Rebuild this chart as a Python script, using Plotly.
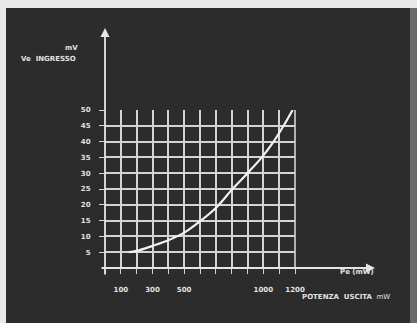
import plotly.graph_objects as go

# curve: input mV vs output power mW
potenza = [150, 200, 300, 400, 500, 600, 700, 805, 900, 990, 1065, 1128, 1185]
ingresso = [5, 5.4, 7, 8.8, 11.2, 14.8, 19, 25, 30, 35, 40, 45, 50]

x_ticks = [100, 300, 500, 1000, 1200]
y_ticks = [5, 10, 15, 20, 25, 30, 35, 40, 45, 50]

W, H = 417, 323
L, R, T, B = 105, 295, 110, 268   # plot area in pixels


def px(x):
	return (x - L) / (R - L)


def py(y):
	return (B - y) / (B - T)


grid = '#d4d4d4'
txt = '#e2e2e2'
fnt_small = dict(family='DejaVu Sans', size=7, color=txt)

fig = go.Figure(data=[
	go.Scatter(x=potenza, y=ingresso, mode='lines', line=dict(color='#f2f2f2', width=2.2, shape='spline', smoothing=1.0),
		showlegend=False, hoverinfo='skip'),
])

fig.update_layout(
	autosize=False,
	width=W,
	height=H,
	paper_bgcolor='#e8e8e8',
	plot_bgcolor='rgba(0,0,0,0)',
	margin=go.layout.Margin(l=L, r=W - R, t=T, b=H - B, pad=0),
	xaxis=dict(
		range=[0, 1200],
		tickvals=x_ticks,
		ticktext=['<b>{}</b>'.format(v) for v in x_ticks],
		showgrid=True,
		gridcolor=grid,
		gridwidth=1.6,
		minor=dict(dtick=100, tick0=0, showgrid=True, gridcolor=grid, gridwidth=1.6,
			ticks='outside', ticklen=5, tickcolor=grid),
		ticks='outside',
		ticklen=5,
		tickcolor=grid,
		ticklabelstandoff=10,
		tickfont=fnt_small,
		showline=False,
		zeroline=False,
		fixedrange=True,
	),
	yaxis=dict(
		range=[0, 50],
		tickvals=y_ticks,
		ticktext=['<b>{}</b>'.format(v) for v in y_ticks],
		showgrid=True,
		gridcolor=grid,
		gridwidth=1.6,
		ticks='outside',
		ticklen=5,
		tickcolor=grid,
		ticklabelstandoff=7,
		tickfont=fnt_small,
		showline=False,
		zeroline=False,
		fixedrange=True,
	),
	shapes=[
		# dark board inside the photo frame
		dict(type='rect', xref='paper', yref='paper', layer='below',
			x0=px(6), x1=px(410), y0=py(323), y1=py(8),
			fillcolor='#2c2c2c', line=dict(width=0)),
		dict(type='rect', xref='paper', yref='paper', layer='below',
			x0=px(410), x1=px(417), y0=py(323), y1=py(8),
			fillcolor='#6a6a6a', line=dict(width=0)),
		# right border of the grid
		dict(type='line', xref='paper', yref='paper', x0=1, x1=1, y0=0, y1=1,
			line=dict(color=grid, width=1.6)),
	],
	annotations=[
		# axes drawn as arrows
		dict(xref='paper', yref='paper', x=px(375), y=0, ax=100 - 375, ay=0,
			axref='pixel', ayref='pixel', text='', showarrow=True,
			arrowhead=2, arrowsize=1, arrowwidth=1.8, arrowcolor='#e6e6e6'),
		dict(xref='paper', yref='paper', x=0, y=py(28), ax=0, ay=276 - 28,
			axref='pixel', ayref='pixel', text='', showarrow=True,
			arrowhead=2, arrowsize=1, arrowwidth=1.8, arrowcolor='#e6e6e6'),
		dict(xref='paper', yref='paper', x=px(63), y=py(42), text='<b>mV</b>',
			showarrow=False, font=fnt_small),
		dict(xref='paper', yref='paper', x=px(19), y=py(53), xanchor='left',
			text='<b>Ve  INGRESSO</b>', showarrow=False, font=fnt_small),
		dict(xref='paper', yref='paper', x=px(376), y=py(278), xanchor='right',
			text='<b>Pe (mW)</b>', showarrow=False, font=fnt_small),
		dict(xref='paper', yref='paper', x=px(300), y=py(303), xanchor='left',
			text='<b>POTENZA  USCITA</b>  mW', showarrow=False, font=fnt_small),
	],
)

fig.write_html('out.html', config={'displayModeBar': False},
	post_script="document.body.style.margin='0';")
